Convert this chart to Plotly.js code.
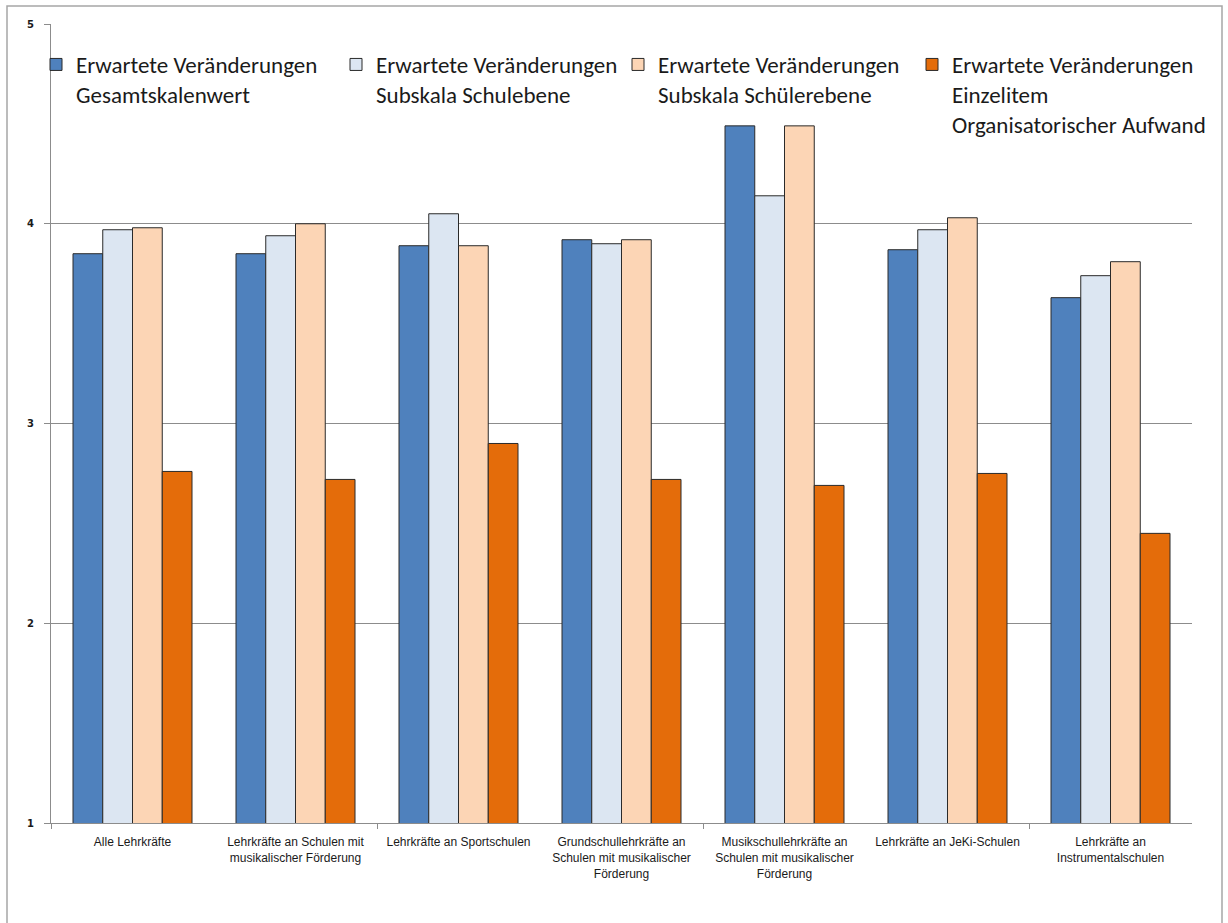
<!DOCTYPE html>
<html>
<head>
<meta charset="utf-8">
<script src="https://cdn.plot.ly/plotly-3.0.1.min.js"></script>
<style>
  html, body { margin: 0; padding: 0; background: #ffffff; }
  #chart { width: 1228px; height: 923px; }
</style>
</head>
<body>
<div id="chart"></div>
<script>
const categories = [
  "Alle Lehrkräfte",
  "Lehrkräfte an Schulen mit<br>musikalischer Förderung",
  "Lehrkräfte an Sportschulen",
  "Grundschullehrkräfte an<br>Schulen mit musikalischer<br>Förderung",
  "Musikschullehrkräfte an<br>Schulen mit musikalischer<br>Förderung",
  "Lehrkräfte an JeKi-Schulen",
  "Lehrkräfte an<br>Instrumentalschulen"
];

const seriesNames = [
  "Erwartete Veränderungen<br>Gesamtskalenwert",
  "Erwartete Veränderungen<br>Subskala Schulebene",
  "Erwartete Veränderungen<br>Subskala Schülerebene",
  "Erwartete Veränderungen<br>Einzelitem<br>Organisatorischer Aufwand"
];

const gesamt          = [3.85, 3.85, 3.89, 3.92, 4.49, 3.87, 3.63];
const schulebene      = [3.97, 3.94, 4.05, 3.90, 4.14, 3.97, 3.74];
const schuelerebene   = [3.98, 4.00, 3.89, 3.92, 4.49, 4.03, 3.81];
const organisatorisch = [2.76, 2.72, 2.90, 2.72, 2.69, 2.75, 2.45];

const yTicks = [1, 2, 3, 4, 5];
const colors = ["#4F81BD", "#DCE6F2", "#FCD5B5", "#E46C0A"];
const seriesValues = [gesamt, schulebene, schuelerebene, organisatorisch];
const legendIds = ["legend", "legend2", "legend3", "legend4"];

const traces = seriesValues.map((vals, i) => ({
  type: "bar",
  name: seriesNames[i],
  x: categories,
  y: vals,
  legend: legendIds[i],
  marker: { color: colors[i], line: { color: "#2a2a2a", width: 1 } },
  hoverinfo: "x+y+name"
}));
// helper trace so the secondary axis (tick marks every second category) is drawn
traces.push({ type: "scatter", x: [], y: [], xaxis: "x2", showlegend: false, hoverinfo: "skip" });

// plot area geometry (pixels) used only to place the legends / frame
const L = 51, R = 1192, T = 24, B = 823;
const W = R - L, H = B - T;
const px2x = p => (p - L) / W;
const px2y = p => (B - p) / H;

const legendBase = {
  orientation: "v",
  xanchor: "left",
  yanchor: "top",
  y: px2y(43),
  bgcolor: "rgba(0,0,0,0)",
  font: { family: "Carlito, Lato, sans-serif", size: 23, color: "#1a1a1a" },
  valign: "top",
  itemwidth: 30
};
const legendLeft = [36, 336, 618, 912];

const layout = {
  width: 1228,
  height: 923,
  paper_bgcolor: "#ffffff",
  plot_bgcolor: "#ffffff",
  margin: { l: L, r: 1228 - R, t: T, b: 923 - B, autoexpand: false },
  barmode: "group",
  bargap: 0.27,
  bargroupgap: 0,
  showlegend: true,
  legend:  Object.assign({}, legendBase, { x: px2x(legendLeft[0]) }),
  legend2: Object.assign({}, legendBase, { x: px2x(legendLeft[1]) }),
  legend3: Object.assign({}, legendBase, { x: px2x(legendLeft[2]) }),
  legend4: Object.assign({}, legendBase, { x: px2x(legendLeft[3]) }),
  xaxis: {
    type: "category",
    showline: true,
    linecolor: "#8c8c8c",
    linewidth: 1,
    ticks: "",
    ticklabelstandoff: 8,
    tickfont: { family: "Liberation Sans, Arial, sans-serif", size: 12, color: "#1a1a1a" },
    showgrid: false
  },
  xaxis2: {
    overlaying: "x",
    anchor: "y",
    side: "bottom",
    range: [-0.5, 6.5],
    tickmode: "array",
    tickvals: [-0.5, 1.5, 3.5, 5.5],
    ticks: "outside",
    ticklen: 5,
    tickcolor: "#8c8c8c",
    showticklabels: false,
    showgrid: false,
    zeroline: false,
    showline: false
  },
  yaxis: {
    range: [1, 5],
    tickmode: "array",
    tickvals: yTicks,
    ticktext: yTicks.map(String),
    showgrid: true,
    gridcolor: "#8c8c8c",
    gridwidth: 1,
    showline: true,
    linecolor: "#8c8c8c",
    linewidth: 1,
    ticks: "outside",
    ticklen: 6,
    tickcolor: "#8c8c8c",
    ticklabelstandoff: 8,
    zeroline: false,
    tickfont: { family: "DejaVu Sans, sans-serif", size: 10, color: "#1a1a1a", weight: "bold" }
  },
  shapes: [{
    type: "rect",
    xref: "paper", yref: "paper",
    x0: px2x(7), x1: px2x(1222),
    y0: px2y(940), y1: px2y(6),
    line: { color: "#a6a6a6", width: 1.5 },
    fillcolor: "rgba(0,0,0,0)",
    layer: "below"
  }]
};

Plotly.newPlot("chart", traces, layout, { displayModeBar: false, staticPlot: true });
</script>
</body>
</html>
